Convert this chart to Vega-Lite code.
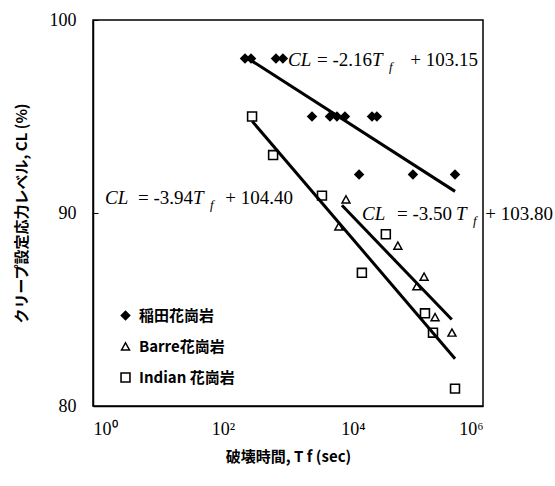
{
  "$schema": "https://vega.github.io/schema/vega-lite/v6.json",
  "width": 390,
  "height": 386,
  "autosize": {"type": "none"},
  "padding": {"left": 93, "top": 20, "right": 72, "bottom": 80},
  "background": "white",
  "config": {
    "view": {"stroke": "black", "strokeWidth": 1.5},
    "axis": {"grid": false, "domainColor": "black", "tickColor": "black", "labelColor": "black", "titleColor": "black"},
    "legend": {"orient": "none", "legendX": 25, "legendY": 288, "title": null, "labelFont": "Noto Sans CJK JP", "labelFontSize": 15, "labelFontWeight": "bold", "labelColor": "black", "rowPadding": 15, "symbolSize": 110, "symbolStrokeWidth": 0, "symbolFillColor": "black", "labelOffset": 6}
  },
  "datasets": {
    "pts": [
      {"rock": "稲田花崗岩", "t": 218, "cl": 98},
      {"rock": "稲田花崗岩", "t": 270, "cl": 98},
      {"rock": "稲田花崗岩", "t": 653, "cl": 98},
      {"rock": "稲田花崗岩", "t": 835, "cl": 98},
      {"rock": "稲田花崗岩", "t": 2340, "cl": 95},
      {"rock": "稲田花崗岩", "t": 4430, "cl": 95},
      {"rock": "稲田花崗岩", "t": 5660, "cl": 95},
      {"rock": "稲田花崗岩", "t": 7520, "cl": 95},
      {"rock": "稲田花崗岩", "t": 19600, "cl": 95},
      {"rock": "稲田花崗岩", "t": 23300, "cl": 95},
      {"rock": "稲田花崗岩", "t": 12400, "cl": 92},
      {"rock": "稲田花崗岩", "t": 83600, "cl": 92},
      {"rock": "稲田花崗岩", "t": 371000, "cl": 92},
      {"rock": "Barre花崗岩", "t": 7800, "cl": 90.7},
      {"rock": "Barre花崗岩", "t": 6050, "cl": 89.3},
      {"rock": "Barre花崗岩", "t": 49000, "cl": 88.3},
      {"rock": "Barre花崗岩", "t": 124000, "cl": 86.7},
      {"rock": "Barre花崗岩", "t": 96000, "cl": 86.2},
      {"rock": "Barre花崗岩", "t": 183000, "cl": 84.6},
      {"rock": "Barre花崗岩", "t": 333000, "cl": 83.8},
      {"rock": "Indian 花崗岩", "t": 280, "cl": 95},
      {"rock": "Indian 花崗岩", "t": 590, "cl": 93},
      {"rock": "Indian 花崗岩", "t": 3330, "cl": 90.9},
      {"rock": "Indian 花崗岩", "t": 32000, "cl": 88.9},
      {"rock": "Indian 花崗岩", "t": 13700, "cl": 86.9},
      {"rock": "Indian 花崗岩", "t": 128000, "cl": 84.8},
      {"rock": "Indian 花崗岩", "t": 170000, "cl": 83.8},
      {"rock": "Indian 花崗岩", "t": 371000, "cl": 80.9}
    ],
    "fits": [
      {"rock": "稲田花崗岩", "t": 224, "cl": 98.08},
      {"rock": "稲田花崗岩", "t": 371500, "cl": 91.12},
      {"rock": "Indian 花崗岩", "t": 282, "cl": 94.75},
      {"rock": "Indian 花崗岩", "t": 371500, "cl": 82.45},
      {"rock": "Barre花崗岩", "t": 6760, "cl": 90.4},
      {"rock": "Barre花崗岩", "t": 331000, "cl": 84.48}
    ],
    "annot": [
      {"part": "it", "txt": "CL", "t": 1000, "cl": 97.93},
      {"part": "up", "txt": "= -2.16", "t": 19600, "cl": 97.93},
      {"part": "it", "txt": "T", "t": 19600, "cl": 97.93},
      {"part": "sub", "txt": "f", "t": 35800, "cl": 97.93},
      {"part": "up", "txt": "+ 103.15", "t": 837000, "cl": 97.93},
      {"part": "it", "txt": "CL", "t": 1.53, "cl": 90.78},
      {"part": "up", "txt": "= -3.94", "t": 34.5, "cl": 90.78},
      {"part": "it", "txt": "T", "t": 34.5, "cl": 90.78},
      {"part": "sub", "txt": "f", "t": 63.1, "cl": 90.78},
      {"part": "up", "txt": "+ 104.40", "t": 1194, "cl": 90.78},
      {"part": "it", "txt": "CL", "t": 13750, "cl": 89.95},
      {"part": "up", "txt": "= -3.50", "t": 333600, "cl": 89.95},
      {"part": "it", "txt": "T", "t": 384600, "cl": 89.95},
      {"part": "sub", "txt": "f", "t": 702000, "cl": 89.95},
      {"part": "up", "txt": "+ 103.80", "t": 11940000, "cl": 89.95}
    ]
  },
  "encoding": {
    "x": {"field": "t", "type": "quantitative",
      "scale": {"type": "log", "domain": [1, 1000000], "nice": false},
      "axis": {"values": [1, 100, 10000, 1000000], "labelExpr": "datum.value == 1 ? '10⁰' : datum.value == 100 ? '10²' : datum.value == 10000 ? '10⁴' : '10⁶'", "labelFont": "Liberation Serif", "labelFontSize": 18, "labelPadding": 14, "tickSize": 0, "title": "破壊時間, T f (sec)", "titleFont": "Noto Sans CJK JP", "titleFontSize": 15, "titleFontWeight": "bold", "titlePadding": 11, "domainWidth": 1.5}},
    "y": {"field": "cl", "type": "quantitative",
      "scale": {"domain": [80, 100], "nice": false, "zero": false},
      "axis": {"values": [80, 90, 100], "labelFont": "Liberation Serif", "labelFontSize": 18, "labelPadding": 22, "tickSize": -5, "title": "クリープ設定応力レベル, CL (%)", "titleFont": "Noto Sans CJK JP", "titleFontSize": 15, "titleFontWeight": "bold", "titlePadding": 20, "domainWidth": 1.5}}
  },
  "layer": [
    {
      "data": {"name": "pts"},
      "mark": {"type": "point", "filled": true, "color": "black", "opacity": 1, "strokeWidth": 0},
      "encoding": {
        "shape": {"field": "rock", "type": "nominal", "scale": {"domain": ["稲田花崗岩", "Barre花崗岩", "Indian 花崗岩"], "range": ["diamond", "M0,-1L1,0.8L-1,0.8Z M0,-0.42L-0.52,0.52L0.52,0.52Z", "M-1,-1L1,-1L1,1L-1,1Z M-0.7,-0.7L-0.7,0.7L0.7,0.7L0.7,-0.7Z"]}},
        "size": {"value": 110}
      }
    },
    {
      "data": {"name": "fits"},
      "mark": {"type": "line", "color": "black", "strokeWidth": 3},
      "encoding": {"detail": {"field": "rock", "type": "nominal"}}
    },
    {
      "data": {"name": "annot"},
      "transform": [{"filter": "datum.part == 'it'"}],
      "mark": {"type": "text", "align": "left", "baseline": "middle", "font": "Liberation Serif", "fontStyle": "italic", "fontSize": 19, "color": "black"},
      "encoding": {"text": {"field": "txt"}}
    },
    {
      "data": {"name": "annot"},
      "transform": [{"filter": "datum.part == 'up'"}],
      "mark": {"type": "text", "align": "right", "baseline": "middle", "font": "Liberation Serif", "fontSize": 19, "color": "black"},
      "encoding": {"text": {"field": "txt"}}
    },
    {
      "data": {"name": "annot"},
      "transform": [{"filter": "datum.part == 'sub'"}],
      "mark": {"type": "text", "align": "left", "baseline": "middle", "font": "Liberation Serif", "fontStyle": "italic", "fontSize": 13, "dy": 7, "color": "black"},
      "encoding": {"text": {"field": "txt"}}
    }
  ]
}
